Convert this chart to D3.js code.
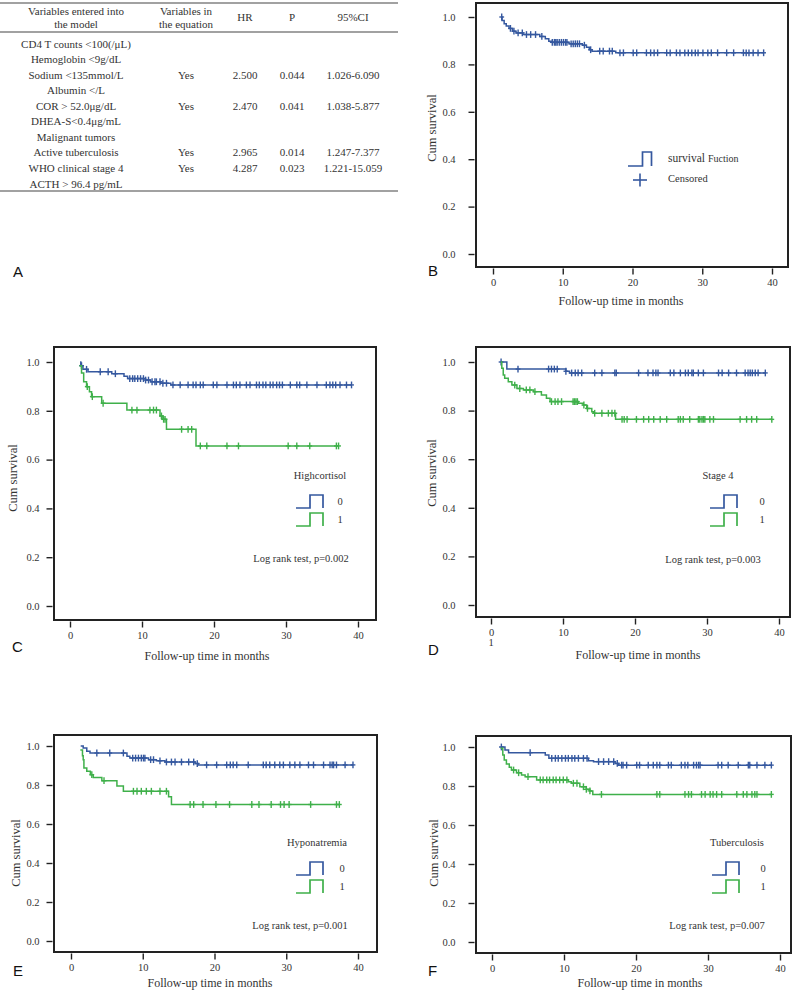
<!DOCTYPE html>
<html><head><meta charset="utf-8">
<script src="https://cdn.jsdelivr.net/npm/d3@7"></script>
<style>body{margin:0;background:#fff}svg{display:block}</style>
</head><body>
<script>
// ---------- DATA ----------
// Table A
const tableHeaderLeft = ["Variables entered into", "the model"];
const tableHeaderEq = ["Variables in", "the equation"];
const tableHeaderStats = ["HR", "P", "95%CI"];
const tableVariables = ["CD4 T counts <100(/μL)", "Hemoglobin <9g/dL", "Sodium <135mmol/L", "Albumin </L",
  "COR > 52.0μg/dL", "DHEA-S<0.4μg/mL", "Malignant tumors", "Active tuberculosis", "WHO clinical stage 4", "ACTH > 96.4 pg/mL"];
const tableInEq = ["", "", "Yes", "", "Yes", "", "", "Yes", "Yes", ""];
const tableHR = ["", "", "2.500", "", "2.470", "", "", "2.965", "4.287", ""];
const tableP = ["", "", "0.044", "", "0.041", "", "", "0.014", "0.023", ""];
const tableCI = ["", "", "1.026-6.090", "", "1.038-5.877", "", "", "1.247-7.377", "1.221-15.059", ""];

const xTicks = [0, 10, 20, 30, 40];
const yTicks = [0.0, 0.2, 0.4, 0.6, 0.8, 1.0];

// Panel B – overall survival
const bTimes = [1.25, 1.3, 1.6, 1.9, 2.3, 2.8, 3.3, 4.3, 6.7, 7.5, 8.0, 8.4, 10.9, 12.8, 13.4, 13.8, 14.2, 17.6];
const bSurv  = [1.0, 0.985, 0.972, 0.962, 0.952, 0.940, 0.933, 0.926, 0.918, 0.908, 0.898, 0.893, 0.887, 0.881, 0.872, 0.862, 0.856, 0.849];
const bCensor = [1.25, 2.5, 3.0, 3.6, 4.2, 4.8, 5.4, 6.1, 7.0, 8.5, 8.8, 9.0, 9.2, 9.5, 9.8, 10.1, 10.4, 10.6, 11.2, 11.5, 11.8, 12.1, 12.4, 13.1, 14.0, 15.3, 15.8, 16.7, 17.1, 18.2, 18.7, 20.1, 20.6, 22.0, 22.6, 23.1, 23.6, 24.9, 25.4, 26.3, 26.8, 27.5, 28.0, 28.5, 29.0, 29.4, 30.1, 30.8, 31.3, 32.2, 33.5, 34.5, 35.9, 36.3, 36.7, 37.3, 38.0, 38.8];

// Panel C – Highcortisol
const cBlueTimes = [1.4, 1.5, 1.8, 2.5, 5.8, 7.5, 8.0, 10.5, 11.2, 12.6, 14.0];
const cBlueSurv  = [1.0, 0.985, 0.97, 0.96, 0.952, 0.942, 0.932, 0.926, 0.919, 0.913, 0.906];
const cBlueCensor = [1.6, 2.3, 4.2, 5.3, 6.3, 8.3, 8.7, 9.0, 9.4, 9.8, 10.2, 10.5, 10.9, 11.4, 11.8, 12.0, 12.5, 12.9, 13.4, 14.3, 15.3, 16.4, 17.1, 17.5, 18.1, 18.5, 19.9, 20.4, 21.8, 22.7, 23.1, 23.6, 24.5, 25.0, 25.9, 26.3, 26.8, 27.2, 27.8, 28.2, 28.7, 29.1, 29.5, 30.6, 31.5, 31.9, 32.9, 34.3, 35.6, 36.1, 36.5, 36.9, 37.5, 38.4, 39.1];
const cGreenTimes = [1.3, 1.6, 1.9, 2.3, 2.7, 3.0, 4.4, 7.9, 12.5, 12.9, 13.4, 17.5];
const cGreenSurv  = [0.985, 0.955, 0.919, 0.899, 0.878, 0.858, 0.831, 0.803, 0.779, 0.765, 0.724, 0.656];
const cGreenCensor = [2.4, 3.1, 4.6, 8.6, 9.3, 11.1, 11.6, 12.0, 12.7, 13.0, 13.2, 15.5, 16.4, 16.9, 18.1, 19.0, 21.8, 23.4, 30.3, 31.5, 33.3, 37.0, 37.3];

// Panel D – Stage 4
const dBlueTimes = [1.35, 2.2, 10.4, 10.9];
const dBlueSurv  = [1.0, 0.971, 0.962, 0.955];
const dBlueCensor = [1.4, 3.75, 8.0, 8.4, 8.8, 9.2, 10.4, 11.2, 11.7, 12.1, 12.6, 14.4, 15.4, 17.2, 17.4, 20.5, 21.8, 22.5, 22.9, 23.2, 24.9, 25.4, 26.3, 27.0, 27.4, 27.9, 28.1, 28.8, 29.5, 31.6, 32.1, 33.0, 34.1, 35.3, 35.7, 36.0, 36.3, 36.7, 37.1, 38.1];
const dGreenTimes = [1.35, 1.5, 1.7, 1.9, 2.4, 2.9, 3.6, 4.5, 5.9, 7.0, 7.7, 8.2, 12.1, 12.8, 13.3, 14.0, 14.2, 17.3];
const dGreenSurv  = [1.0, 0.974, 0.947, 0.933, 0.919, 0.905, 0.891, 0.885, 0.878, 0.864, 0.851, 0.837, 0.830, 0.823, 0.809, 0.795, 0.789, 0.764];
const dGreenCensor = [3.3, 4.0, 4.9, 5.4, 6.1, 8.4, 8.9, 9.3, 9.8, 11.4, 11.6, 11.8, 12.0, 12.9, 13.4, 14.4, 15.4, 16.3, 16.8, 17.2, 18.2, 18.5, 18.9, 20.2, 21.2, 21.9, 22.6, 23.5, 24.4, 26.0, 26.3, 26.7, 27.6, 28.8, 29.0, 29.3, 29.5, 29.7, 30.4, 30.9, 34.6, 35.5, 36.2, 36.9, 39.0];

// Panel E – Hyponatremia
const eBlueTimes = [1.35, 1.7, 2.2, 2.65, 7.8, 8.2, 10.8, 11.9, 13.1, 17.3, 17.7];
const eBlueSurv  = [1.0, 0.99, 0.973, 0.964, 0.947, 0.938, 0.93, 0.924, 0.918, 0.91, 0.903];
const eBlueCensor = [3.6, 5.4, 7.3, 8.6, 9.0, 9.4, 9.8, 10.1, 10.3, 11.1, 11.5, 12.4, 13.3, 14.0, 14.5, 15.4, 16.4, 17.1, 17.6, 18.9, 20.3, 21.7, 22.2, 22.6, 23.1, 24.7, 26.8, 27.2, 27.7, 28.4, 29.1, 29.6, 30.5, 31.2, 31.9, 33.1, 33.8, 35.2, 36.1, 36.4, 36.6, 37.0, 38.2, 39.3];
const eGreenTimes = [1.3, 1.6, 1.7, 1.8, 2.2, 2.7, 3.1, 4.3, 6.4, 7.3, 13.6, 14.0];
const eGreenSurv  = [0.98, 0.95, 0.93, 0.887, 0.87, 0.853, 0.839, 0.822, 0.795, 0.768, 0.74, 0.70];
const eGreenCensor = [2.9, 4.6, 8.7, 9.2, 9.8, 10.5, 11.2, 12.4, 13.3, 16.6, 17.1, 18.4, 20.2, 22.1, 25.2, 26.2, 27.9, 29.2, 29.7, 30.4, 33.4, 37.0, 37.4];

// Panel F – Tuberculosis
const fBlueTimes = [1.2, 1.8, 2.3, 7.4, 7.9, 13.4, 14.1, 17.1, 17.6];
const fBlueSurv  = [1.0, 0.985, 0.971, 0.959, 0.942, 0.93, 0.925, 0.916, 0.907];
const fBlueCensor = [1.3, 5.3, 8.3, 8.8, 9.2, 9.7, 10.2, 10.6, 11.1, 11.5, 12.0, 12.7, 13.2, 14.8, 15.5, 16.2, 16.9, 17.4, 18.0, 18.2, 18.7, 20.1, 20.5, 21.7, 22.4, 22.9, 23.3, 24.5, 24.9, 26.3, 26.8, 27.2, 28.0, 28.4, 28.7, 28.9, 31.4, 31.9, 32.8, 34.2, 35.6, 35.8, 36.8, 37.9, 38.8];
const fGreenTimes = [1.2, 1.5, 1.7, 2.0, 2.4, 2.7, 3.4, 4.1, 4.6, 6.2, 10.6, 11.0, 12.2, 13.1, 13.6, 14.0];
const fGreenSurv  = [0.993, 0.959, 0.933, 0.913, 0.896, 0.882, 0.868, 0.856, 0.848, 0.831, 0.822, 0.814, 0.796, 0.783, 0.775, 0.757];
const fGreenCensor = [3.0, 3.7, 5.0, 6.7, 7.1, 7.6, 8.0, 8.5, 8.9, 9.4, 9.9, 10.4, 11.3, 11.8, 12.7, 13.1, 13.6, 15.2, 22.9, 23.3, 26.8, 27.3, 27.7, 29.1, 29.6, 30.3, 30.7, 31.2, 31.9, 34.0, 34.9, 35.4, 36.1, 36.5, 36.8, 38.8];

const groupLabels = ["0", "1"];
const panelTitles = { C: "Highcortisol", D: "Stage 4", E: "Hyponatremia", F: "Tuberculosis" };
const logRank = { C: "Log rank test, p=0.002", D: "Log rank test, p=0.003", E: "Log rank test, p=0.001", F: "Log rank test, p=0.007" };

// ---------- STYLE ----------
const BLUE = "#35589f", GREEN = "#3fb04a", INK = "#222", TXT = "#333";
const SERIF = "'Liberation Serif','Times New Roman',serif";
const SANS = "'Liberation Sans',Arial,sans-serif";

const svg = d3.select("body").append("svg").attr("width", 800).attr("height", 991);
svg.append("rect").attr("width", 800).attr("height", 991).attr("fill", "#fff");

// ---------- TABLE A ----------
(function drawTable() {
  const g = svg.append("g").attr("font-family", SERIF).attr("font-size", 11).attr("fill", TXT);
  [3, 32, 191].forEach(yy => g.append("line").attr("x1", 0).attr("x2", 398).attr("y1", yy).attr("y2", yy)
    .attr("stroke", "#444").attr("stroke-width", 1.2));
  const colX = [76, 186, 245, 292, 353];
  g.selectAll(".hl").data(tableHeaderLeft).join("text").attr("x", colX[0]).attr("y", (d, i) => 15 + i * 13)
    .attr("text-anchor", "middle").text(d => d);
  g.selectAll(".he").data(tableHeaderEq).join("text").attr("x", colX[1]).attr("y", (d, i) => 15 + i * 13)
    .attr("text-anchor", "middle").text(d => d);
  g.selectAll(".hs").data(tableHeaderStats).join("text").attr("x", (d, i) => colX[2 + i]).attr("y", 21)
    .attr("text-anchor", "middle").text(d => d);
  const ry = d3.scalePoint().domain(d3.range(tableVariables.length)).range([43.5, 183.5]);
  const cols = [tableVariables, tableInEq, tableHR, tableP, tableCI];
  cols.forEach((arr, ci) => {
    g.append("g").selectAll("text").data(arr).join("text")
      .attr("x", colX[ci]).attr("y", (d, i) => ry(i) + 4).attr("text-anchor", "middle").text(d => d);
  });
})();

// ---------- KM PANELS ----------
function survAt(T, S, t) {
  const i = d3.bisectRight(T, t) - 1;
  return S[Math.max(0, i)];
}

function drawPanel(cfg) {
  const g = svg.append("g");
  const x = d3.scaleLinear().domain([0, 40]).range([cfg.x0, cfg.x40]);
  const y = d3.scaleLinear().domain([0, 1]).range([cfg.y0, cfg.y1]);
  const [fx0, fy0, fx1, fy1] = cfg.frame;

  const ya = g.append("g").attr("transform", `translate(${fx0 - 1.5},0)`)
    .call(d3.axisLeft(y).tickValues(yTicks).tickFormat(d3.format(".1f")).tickSize(6).tickPadding(cfg.yPad));
  const xa = g.append("g").attr("transform", `translate(0,${fy1 + 1.5})`)
    .call(d3.axisBottom(x).tickValues(xTicks).tickFormat(d3.format("d")).tickSize(6).tickPadding(4));
  [ya, xa].forEach(a => {
    a.select(".domain").remove();
    a.selectAll(".tick line").attr("stroke", INK).attr("stroke-width", 1.4);
    a.selectAll(".tick text").attr("font-family", SERIF).attr("font-size", 10.5).attr("fill", TXT);
  });

  g.append("rect").attr("x", fx0).attr("y", fy0).attr("width", fx1 - fx0).attr("height", fy1 - fy0)
    .attr("fill", "none").attr("stroke", INK).attr("stroke-width", 2);

  const line = d3.line().x(d => x(d[0])).y(d => y(d[1])).curve(d3.curveStepAfter);
  cfg.series.forEach(s => {
    const pts = s.T.map((t, i) => [t, s.S[i]]);
    const tEnd = Math.max(d3.max(s.C), s.T[s.T.length - 1]);
    pts.push([tEnd, s.S[s.S.length - 1]]);
    g.append("path").attr("d", line(pts)).attr("fill", "none").attr("stroke", s.color).attr("stroke-width", 1.5);
    const cg = g.append("g").attr("stroke", s.color).attr("stroke-width", 1.4);
    s.C.forEach(t => {
      const cx = x(t), cy = y(survAt(s.T, s.S, t));
      cg.append("line").attr("x1", cx).attr("x2", cx).attr("y1", cy - 3.4).attr("y2", cy + 3.4);
      cg.append("line").attr("x1", cx - 2.4).attr("x2", cx + 2.4).attr("y1", cy).attr("y2", cy);
    });
  });

  g.append("text").attr("x", cfg.xTitle[0]).attr("y", cfg.xTitle[1]).attr("text-anchor", "middle")
    .attr("font-family", SERIF).attr("font-size", 12).attr("fill", TXT).text("Follow-up time in months");
  g.append("text").attr("transform", `translate(${cfg.yTitle[0]},${cfg.yTitle[1]}) rotate(-90)`)
    .attr("text-anchor", "middle").attr("font-family", SERIF).attr("font-size", 12.5).attr("fill", TXT).text("Cum survival");

  g.append("text").attr("x", cfg.letterPos[0]).attr("y", cfg.letterPos[1]).attr("font-family", SANS)
    .attr("font-size", 15).attr("fill", "#111").text(cfg.letter);

  if (cfg.legend) {
    const L = cfg.legend;
    const lg = g.append("g").attr("font-family", SERIF).attr("font-size", 10.5).attr("fill", TXT);
    lg.append("text").attr("x", L.titleX).attr("y", L.titleY).attr("text-anchor", "middle").text(panelTitles[cfg.letter]);
    cfg.series.forEach((s, i) => {
      const yt = L.iconTop[i], yb = yt + 13;
      lg.append("path").attr("d", `M${L.ix0},${yb}H${L.ix0 + 14}V${yt}H${L.ix0 + 27}V${yb}`)
        .attr("fill", "none").attr("stroke", s.color).attr("stroke-width", 1.7);
      lg.append("text").attr("x", L.labX).attr("y", yt + 10).attr("text-anchor", "middle").text(groupLabels[i]);
    });
    lg.append("text").attr("x", L.lrX).attr("y", L.lrY).attr("text-anchor", "middle").text(logRank[cfg.letter]);
  }
  return { g, x, y };
}

// Panel B
const pB = drawPanel({
  letter: "B", frame: [476, 3, 788, 267], x0: 493, x40: 772, y0: 254, y1: 17, yPad: 13,
  xTitle: [621, 305], yTitle: [436, 128], letterPos: [428, 276],
  series: [{ T: bTimes, S: bSurv, C: bCensor, color: BLUE }]
});
(function legendB() {
  const lg = pB.g.append("g").attr("font-family", SERIF).attr("fill", TXT);
  lg.append("path").attr("d", "M628,166H642.5V152H651.5V166").attr("fill", "none").attr("stroke", BLUE).attr("stroke-width", 1.7);
  const t = lg.append("text").attr("x", 668).attr("y", 162).attr("font-size", 11.5);
  t.append("tspan").text("survival ");
  t.append("tspan").attr("font-size", 10).text("Fuction");
  lg.append("line").attr("x1", 633).attr("x2", 647).attr("y1", 180).attr("y2", 180).attr("stroke", BLUE).attr("stroke-width", 1.6);
  lg.append("line").attr("x1", 640).attr("x2", 640).attr("y1", 173.5).attr("y2", 186.5).attr("stroke", BLUE).attr("stroke-width", 1.6);
  lg.append("text").attr("x", 668).attr("y", 182).attr("font-size", 10.5).text("Censored");
})();

// Panel C
drawPanel({
  letter: "C", frame: [54, 347, 376, 620], x0: 70, x40: 358, y0: 606, y1: 362, yPad: 7,
  xTitle: [207, 660], yTitle: [17, 478], letterPos: [12, 652],
  series: [{ T: cBlueTimes, S: cBlueSurv, C: cBlueCensor, color: BLUE },
           { T: cGreenTimes, S: cGreenSurv, C: cGreenCensor, color: GREEN }],
  legend: { titleX: 320, titleY: 479, ix0: 296, iconTop: [495, 513], labX: 340, lrX: 301, lrY: 562 }
});

// Panel D
const pD = drawPanel({
  letter: "D", frame: [476, 347, 790, 617], x0: 491, x40: 779, y0: 605, y1: 362, yPad: 13,
  xTitle: [638, 659], yTitle: [436, 473], letterPos: [428, 655],
  series: [{ T: dBlueTimes, S: dBlueSurv, C: dBlueCensor, color: BLUE },
           { T: dGreenTimes, S: dGreenSurv, C: dGreenCensor, color: GREEN }],
  legend: { titleX: 718, titleY: 479, ix0: 710, iconTop: [495, 513], labX: 762, lrX: 713, lrY: 563 }
});
pD.g.append("text").attr("x", pD.x(0)).attr("y", 646).attr("text-anchor", "middle")
  .attr("font-family", SERIF).attr("font-size", 10.5).attr("fill", TXT).text(groupLabels[1]);

// Panel E
drawPanel({
  letter: "E", frame: [54, 735, 377, 952], x0: 71, x40: 358, y0: 941, y1: 746, yPad: 7,
  xTitle: [210, 987], yTitle: [20, 853], letterPos: [13, 976],
  series: [{ T: eBlueTimes, S: eBlueSurv, C: eBlueCensor, color: BLUE },
           { T: eGreenTimes, S: eGreenSurv, C: eGreenCensor, color: GREEN }],
  legend: { titleX: 317, titleY: 846, ix0: 296, iconTop: [862, 880], labX: 342, lrX: 300, lrY: 929 }
});

// Panel F
drawPanel({
  letter: "F", frame: [476, 736, 791, 953], x0: 492, x40: 780, y0: 942, y1: 747, yPad: 13,
  xTitle: [640, 987], yTitle: [438, 853], letterPos: [428, 976],
  series: [{ T: fBlueTimes, S: fBlueSurv, C: fBlueCensor, color: BLUE },
           { T: fGreenTimes, S: fGreenSurv, C: fGreenCensor, color: GREEN }],
  legend: { titleX: 737, titleY: 846, ix0: 712, iconTop: [862, 880], labX: 763, lrX: 717, lrY: 929 }
});

// Panel A letter
svg.append("text").attr("x", 13).attr("y", 277).attr("font-family", SANS).attr("font-size", 15).attr("fill", "#111").text("A");
</script>
</body></html>
